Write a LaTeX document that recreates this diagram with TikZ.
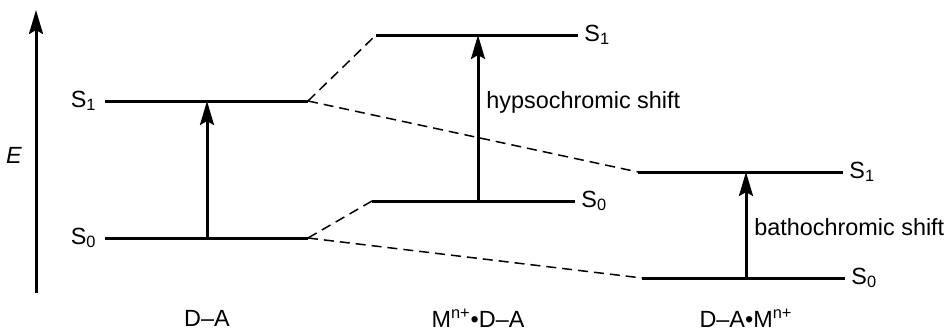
\documentclass[tikz,border=0pt]{standalone}
\usepackage{fontspec}
\setmainfont{Liberation Sans}
\usetikzlibrary{arrows.meta,positioning}

\begin{document}
\begin{tikzpicture}[x=0.5pt,y=-0.5pt,font=\fontsize{11.7}{14}\selectfont,node distance=4pt,
 lvl/.style={line width=1.5pt},
 link/.style={line width=0.75pt,dash pattern=on 5pt off 3pt},
 trans/.style={line width=1.5pt,-{Stealth[length=12pt,width=7pt,inset=2pt]}},
 lab/.style={inner sep=0pt}]
\useasboundingbox (0,0) rectangle (950,332);
% energy axis
\coordinate (ebot) at (36,293);\coordinate (etop) at (36,10);
\draw[trans](ebot)--(etop);
\node[lab](E) at (14,155){\textit{E}};
% D-A levels
\coordinate (aS1l) at (105,101);\coordinate (aS1r) at (308,101);
\coordinate (aS0l) at (105,238);\coordinate (aS0r) at (308,238);
% M-D-A levels
\coordinate (bS1l) at (376,35);\coordinate (bS1r) at (578,35);
\coordinate (bS0l) at (372,201);\coordinate (bS0r) at (575,201);
% D-A-M levels
\coordinate (cS1l) at (638,172);\coordinate (cS1r) at (843,172);
\coordinate (cS0l) at (642,278);\coordinate (cS0r) at (845,278);
\draw[lvl](aS1l)--(aS1r);\draw[lvl](aS0l)--(aS0r);
\draw[lvl](bS1l)--(bS1r);\draw[lvl](bS0l)--(bS0r);
\draw[lvl](cS1l)--(cS1r);\draw[lvl](cS0l)--(cS0r);
\draw[link](aS1r)--(bS1l);\draw[link](aS1r)--(cS1l);
\draw[link](aS0r)--(bS0l);\draw[link](aS0r)--(cS0l);
% transitions
\coordinate (aT0) at (207,238);\coordinate (aT1) at (207,101);
\coordinate (bT0) at (478,201);\coordinate (bT1) at (478,35);
\coordinate (cT0) at (746,278);\coordinate (cT1) at (746,172);
\draw[trans](aT0)--(aT1);\draw[trans](bT0)--(bT1);\draw[trans](cT0)--(cT1);
% labels
\node[lab,left=of aS1l](aS1){S\textsubscript{1}};
\node[lab,left=of aS0l](aS0){S\textsubscript{0}};
\node[lab,right=3pt of bS1r](bS1){S\textsubscript{1}};
\node[lab,right=3pt of bS0r](bS0){S\textsubscript{0}};
\node[lab,right=3pt of cS1r](cS1){S\textsubscript{1}};
\node[lab,right=3pt of cS0r](cS0){S\textsubscript{0}};
\node[lab,anchor=west](hyp) at (486,102){hypsochromic shift};
\node[lab,anchor=west](bat) at (754,227){bathochromic shift};
\node(nA) at (207,318){D--A};
\node(nB) at (478,318){M\textsuperscript{n+}\textbullet D--A};
\node(nC) at (746,318){D--A\textbullet M\textsuperscript{n+}};
\end{tikzpicture}
\end{document}
